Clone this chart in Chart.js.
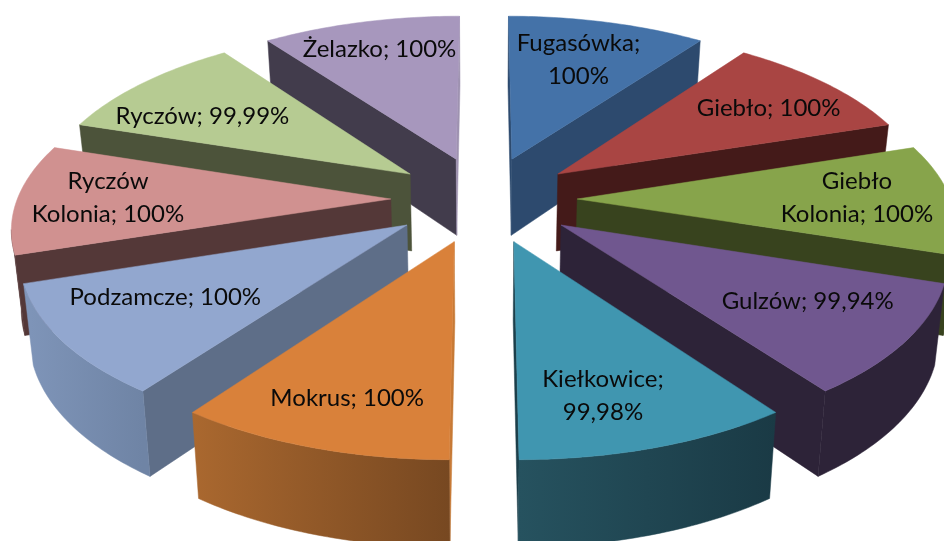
<!DOCTYPE html>
<html>
<head>
<meta charset="utf-8">
<title>Pie</title>
<script src="https://cdn.jsdelivr.net/npm/chart.js@4"></script>
<style>
  html, body { margin: 0; padding: 0; background: #fff; overflow: hidden; }
  canvas { display: block; }
</style>
</head>
<body>
<canvas id="myChart" width="944" height="541"></canvas>
<script>
const categories = ["Fugasówka", "Giebło", "Giebło Kolonia", "Gulzów", "Kiełkowice", "Mokrus", "Podzamcze", "Ryczów Kolonia", "Ryczów", "Żelazko"];
const percents = [100, 100, 100, 99.94, 99.98, 100, 100, 100, 99.99, 100];
// These two names wrap before the number, the two-word ones wrap after the first word
const wrapBeforeValue = ["Fugasówka", "Kiełkowice"];

const topColors = ["#4472a8", "#a94543", "#87a44b", "#70578f", "#4096b0", "#d9813a", "#92a7cf", "#d09190", "#b6cb92", "#a797bd"];
const sideColors = ["#2d4a6e", "#441a19", "#38431e", "#2d2338", "#1c3f4a", "#8a5526", "#5e6e88", "#543838", "#4c533a", "#423c4c"];
// The nearly edge-on walls next to the vertical gap
const sliverColors = ["#2d4a6e", "#441a19", "#38431e", "#2d2338", "#1c3f4a", "#c77a36", "#5e6e88", "#543838", "#4c533a", "#9e92b0"];
const outerLeftColors = ["#2d4a6e", "#441a19", "#38431e", "#2d2338", "#26525f", "#aa682f", "#7f95b9", "#543838", "#4c533a", "#423c4c"];
const outerRightColors = ["#2d4a6e", "#441a19", "#38431e", "#2d2338", "#1a3a45", "#774821", "#6f84a5", "#543838", "#4c533a", "#423c4c"];

// Small moves of each label away from the middle of its slice
const labelNudgeX = [-4, 15, 13, 7, -9, -9, -2, -16, -12, -6];
const labelNudgeY = [2, 0, -1, -5, 14, 16, -9, -1, 8, -9];

// The camera, fitted by hand against the picture
const centerX = 484;
const centerY = 199;
const worldRadius = 373.5;
const squash = 0.465;
const perspective = 0.00038;
const labelReach = 360;
const lineHeight = 33;

function project(u, v, isBottom) {
  const s = 1 / (1 - perspective * v);
  let x = centerX + u * s;
  let y = centerY + squash * v * s;
  if (isBottom) {
    x = centerX + (x - centerX) * 0.979;
    y += 78 + 0.0207 * v;
  }
  return { x, y };
}

function fillPolygon(ctx, points, style) {
  ctx.beginPath();
  points.forEach((p, i) => (i ? ctx.lineTo(p.x, p.y) : ctx.moveTo(p.x, p.y)));
  ctx.closePath();
  ctx.fillStyle = style;
  ctx.strokeStyle = style;
  ctx.lineWidth = 0.5;
  ctx.fill();
  ctx.stroke();
}

function sliceWorld(arc) {
  const scale = worldRadius / arc.outerRadius;
  const mid = (arc.startAngle + arc.endAngle) / 2;
  const offset = arc.options.offset * scale;
  const ou = Math.cos(mid) * offset;
  const ov = Math.sin(mid) * offset;
  const rim = [];
  const steps = 40;
  for (let i = 0; i <= steps; i++) {
    const a = arc.startAngle + ((arc.endAngle - arc.startAngle) * i) / steps;
    rim.push({ u: ou + Math.cos(a) * worldRadius, v: ov + Math.sin(a) * worldRadius });
  }
  return { apex: { u: ou, v: ov }, rim, mid };
}

function wall(ctx, world, style) {
  // world is a run of points along the top edge, the wall hangs under it
  const top = world.map((p) => project(p.u, p.v, false));
  const bottom = world.map((p) => project(p.u, p.v, true)).reverse();
  fillPolygon(ctx, top.concat(bottom), style);
}

function drawSlice(ctx, arc, i) {
  const world = sliceWorld(arc);
  const rim = world.rim;
  const last = rim.length - 1;
  const screenRim = rim.map((p) => project(p.u, p.v, false));
  const apex = project(world.apex.u, world.apex.v, false);

  // Going clockwise round a slice, an edge running right to left is a lower edge and shows its wall
  if (screenRim[0].x < apex.x) {
    wall(ctx, [world.apex, rim[0]], apex.x - screenRim[0].x < 10 ? sliverColors[i] : sideColors[i]);
  }
  if (apex.x < screenRim[last].x) {
    wall(ctx, [rim[last], world.apex], screenRim[last].x - apex.x < 10 ? sliverColors[i] : sideColors[i]);
  }

  const xs = screenRim.map((p) => p.x);
  const gradient = ctx.createLinearGradient(Math.min(...xs), 0, Math.max(...xs), 0);
  gradient.addColorStop(0, outerLeftColors[i]);
  gradient.addColorStop(1, outerRightColors[i]);
  let run = [];
  for (let j = 0; j < last; j++) {
    if (screenRim[j + 1].x < screenRim[j].x) {
      if (!run.length) run.push(rim[j]);
      run.push(rim[j + 1]);
    } else if (run.length) {
      wall(ctx, run, gradient);
      run = [];
    }
  }
  if (run.length) wall(ctx, run, gradient);

  fillPolygon(ctx, [apex].concat(screenRim), topColors[i]);
}

function labelLines(i) {
  const name = categories[i];
  const value = String(percents[i]).replace(".", ",") + "%";
  if (wrapBeforeValue.includes(name)) return [name + ";", value];
  const space = name.indexOf(" ");
  if (space > 0) return [name.slice(0, space), name.slice(space + 1) + "; " + value];
  return [name + "; " + value];
}

const pie3d = {
  id: "pie3d",
  beforeDatasetsDraw(chart) {
    const ctx = chart.ctx;
    const arcs = chart.getDatasetMeta(0).data;
    // Paint from the back of the pie to the front
    const order = arcs.map((arc, i) => i).sort((a, b) => {
      const midA = (arcs[a].startAngle + arcs[a].endAngle) / 2;
      const midB = (arcs[b].startAngle + arcs[b].endAngle) / 2;
      return Math.sin(midA) - Math.sin(midB);
    });
    ctx.save();
    order.forEach((i) => drawSlice(ctx, arcs[i], i));
    ctx.restore();
    return false;
  },
  afterDraw(chart) {
    const ctx = chart.ctx;
    const arcs = chart.getDatasetMeta(0).data;
    ctx.save();
    ctx.font = '24px Lato, "Open Sans", sans-serif';
    ctx.fillStyle = "#0a0a0a";
    ctx.textAlign = "center";
    ctx.textBaseline = "middle";
    arcs.forEach((arc, i) => {
      const mid = (arc.startAngle + arc.endAngle) / 2;
      const p = project(Math.cos(mid) * labelReach, Math.sin(mid) * labelReach, false);
      const lines = labelLines(i);
      lines.forEach((line, n) => {
        const y = p.y + labelNudgeY[i] + (n - (lines.length - 1) / 2) * lineHeight;
        ctx.fillText(line, p.x + labelNudgeX[i], y);
      });
    });
    ctx.restore();
  },
};

new Chart(document.getElementById("myChart"), {
  type: "pie",
  data: {
    labels: categories,
    datasets: [
      {
        data: percents,
        backgroundColor: topColors,
        borderWidth: 0,
        offset: 60,
      },
    ],
  },
  options: {
    responsive: false,
    animation: false,
    plugins: { legend: { display: false }, tooltip: { enabled: false } },
  },
  plugins: [pie3d],
});
</script>
</body>
</html>
